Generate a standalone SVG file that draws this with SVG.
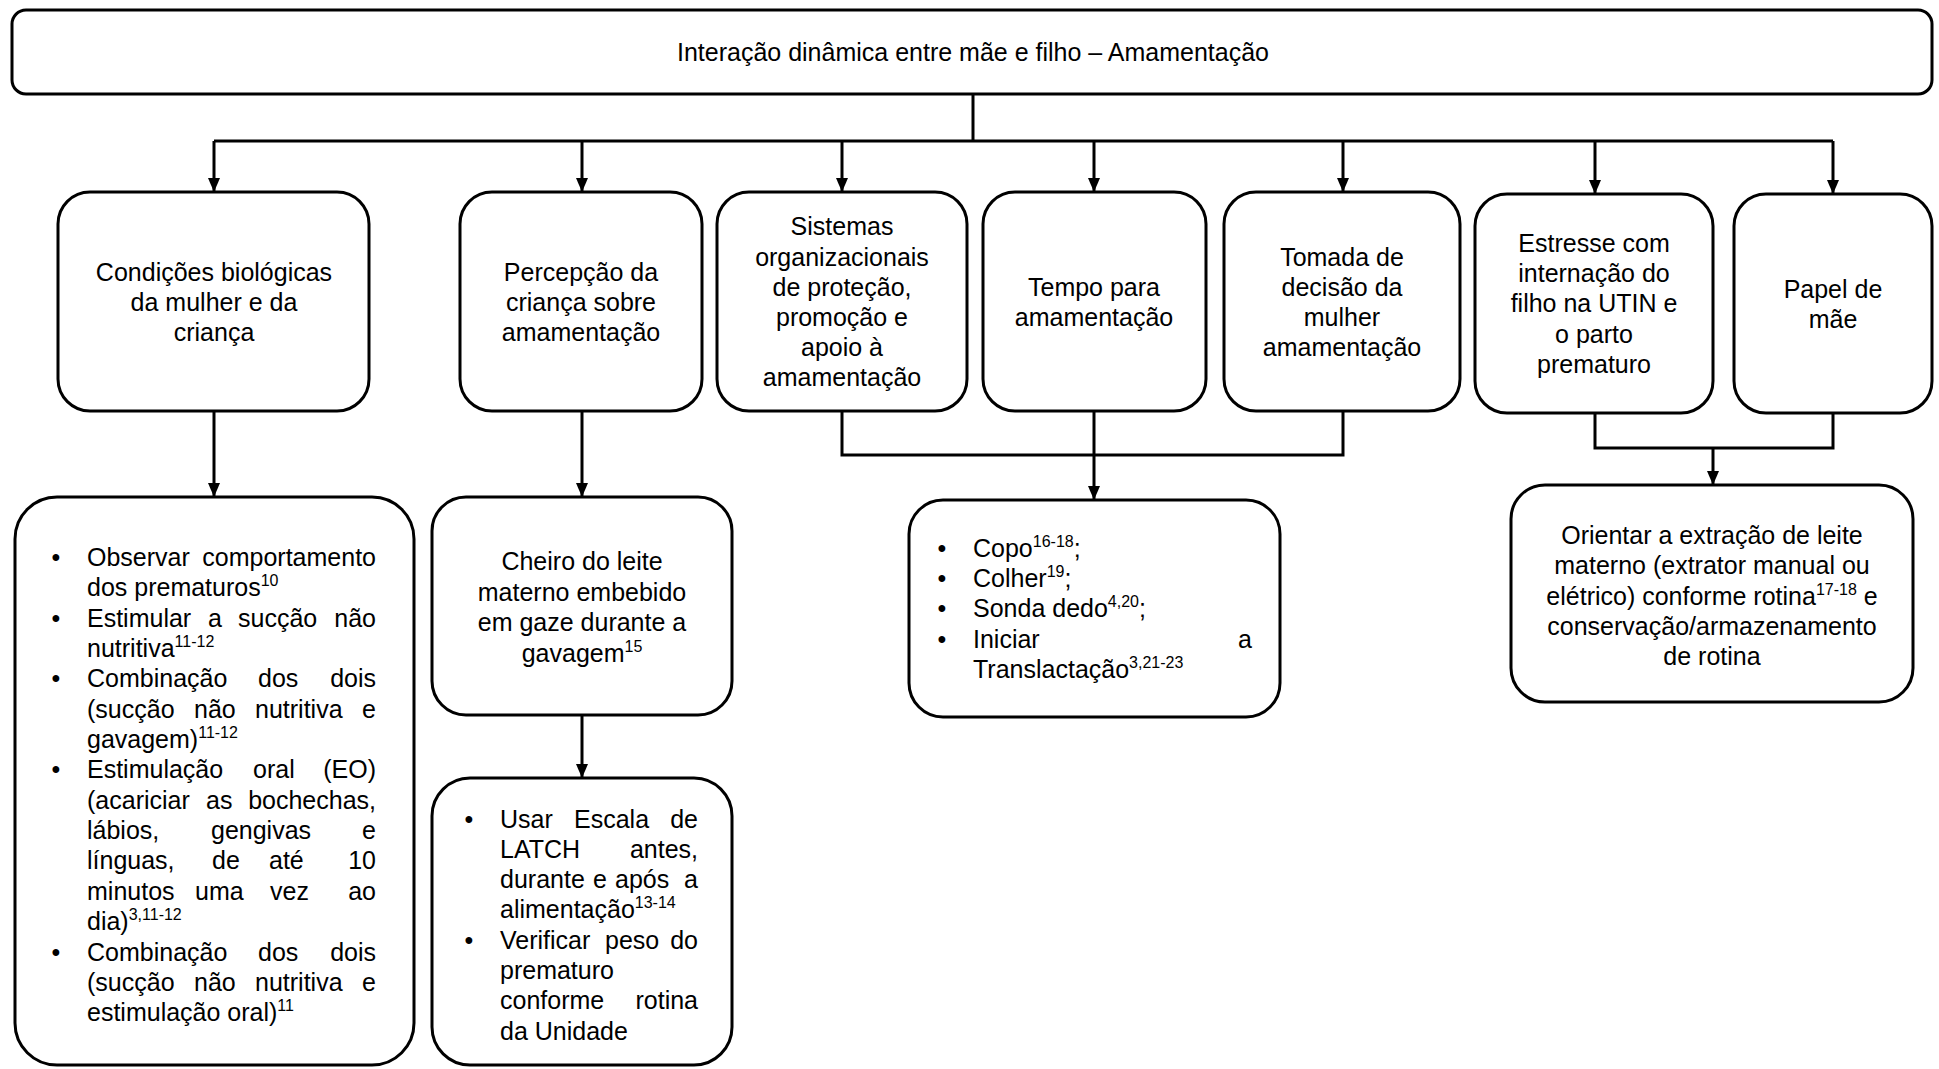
<svg xmlns="http://www.w3.org/2000/svg" width="1939" height="1069" viewBox="0 0 1939 1069">
<defs>
<marker id="arr" viewBox="0 0 10 10" refX="10" refY="5" markerWidth="14" markerHeight="12" markerUnits="userSpaceOnUse" orient="auto" preserveAspectRatio="none">
<path d="M0,0 L10,5 L0,10 z" fill="#000"/>
</marker>
<style>
rect.box{fill:#fff;stroke:#000;stroke-width:3}
text{font-family:"Liberation Sans",Arial,sans-serif;font-size:25px;fill:#000}
.c{text-anchor:middle}
.e{text-anchor:end}
.sup{font-size:16px}
.ln{fill:none;stroke:#000;stroke-width:3}
</style>
</defs>
<rect width="1939" height="1069" fill="#fff"/>

<g id="connectors">
<path class="ln" d="M973,94 V141"/>
<path class="ln" d="M214,141 H1833"/>
<path class="ln" d="M214,141 V192" marker-end="url(#arr)"/>
<path class="ln" d="M582,141 V192" marker-end="url(#arr)"/>
<path class="ln" d="M842,141 V192" marker-end="url(#arr)"/>
<path class="ln" d="M1094,141 V192" marker-end="url(#arr)"/>
<path class="ln" d="M1343,141 V192" marker-end="url(#arr)"/>
<path class="ln" d="M1595,141 V194" marker-end="url(#arr)"/>
<path class="ln" d="M1833,141 V194" marker-end="url(#arr)"/>
<path class="ln" d="M214,411 V497" marker-end="url(#arr)"/>
<path class="ln" d="M582,411 V497" marker-end="url(#arr)"/>
<path class="ln" d="M582,715 V778" marker-end="url(#arr)"/>
<path class="ln" d="M842,411 V455 H1343 V411"/>
<path class="ln" d="M1094,411 V500" marker-end="url(#arr)"/>
<path class="ln" d="M1595,413 V448 H1833 V413"/>
<path class="ln" d="M1713,448 V485" marker-end="url(#arr)"/>
</g>

<g id="node-top">
<rect class="box" x="12" y="10" width="1920" height="84" rx="14"/>
<text class="c" x="973" y="61">Interação dinâmica entre mãe e filho – Amamentação</text>
</g>

<g id="node-condicoes">
<rect class="box" x="58" y="192" width="311" height="219" rx="32"/>
<text class="c" x="214" y="281">Condições biológicas</text>
<text class="c" x="214" y="311">da mulher e da</text>
<text class="c" x="214" y="341">criança</text>
</g>

<g id="node-percepcao">
<rect class="box" x="460" y="192" width="242" height="219" rx="32"/>
<text class="c" x="581" y="281">Percepção da</text>
<text class="c" x="581" y="311">criança sobre</text>
<text class="c" x="581" y="341">amamentação</text>
</g>

<g id="node-sistemas">
<rect class="box" x="717" y="192" width="250" height="219" rx="32"/>
<text class="c" x="842" y="235">Sistemas</text>
<text class="c" x="842" y="266">organizacionais</text>
<text class="c" x="842" y="296">de proteção,</text>
<text class="c" x="842" y="326">promoção e</text>
<text class="c" x="842" y="356">apoio à</text>
<text class="c" x="842" y="386">amamentação</text>
</g>

<g id="node-tempo">
<rect class="box" x="983" y="192" width="223" height="219" rx="32"/>
<text class="c" x="1094" y="296">Tempo para</text>
<text class="c" x="1094" y="326">amamentação</text>
</g>

<g id="node-tomada">
<rect class="box" x="1224" y="192" width="236" height="219" rx="32"/>
<text class="c" x="1342" y="266">Tomada de</text>
<text class="c" x="1342" y="296">decisão da</text>
<text class="c" x="1342" y="326">mulher</text>
<text class="c" x="1342" y="356">amamentação</text>
</g>

<g id="node-estresse">
<rect class="box" x="1475" y="194" width="238" height="219" rx="32"/>
<text class="c" x="1594" y="252">Estresse com</text>
<text class="c" x="1594" y="282">internação do</text>
<text class="c" x="1594" y="312">filho na UTIN e</text>
<text class="c" x="1594" y="343">o parto</text>
<text class="c" x="1594" y="373">prematuro</text>
</g>

<g id="node-papel">
<rect class="box" x="1734" y="194" width="198" height="219" rx="32"/>
<text class="c" x="1833" y="298">Papel de</text>
<text class="c" x="1833" y="328">mãe</text>
</g>

<g id="node-condutas-biologicas">
<rect class="box" x="15" y="497" width="399" height="568" rx="42"/>
<text class="c" x="56" y="566">•</text>
<text class="c" x="56" y="627">•</text>
<text class="c" x="56" y="687">•</text>
<text class="c" x="56" y="778">•</text>
<text class="c" x="56" y="961">•</text>
<text y="566"><tspan x="87">Observar</tspan><tspan class="e" x="376">comportamento</tspan></text>
<text x="87" y="596">dos prematuros<tspan class="sup" dy="-10">10</tspan></text>
<text y="627"><tspan x="87">Estimular</tspan><tspan x="208">a</tspan><tspan x="238">sucção</tspan><tspan class="e" x="376">não</tspan></text>
<text x="87" y="657">nutritiva<tspan class="sup" dy="-10">11-12</tspan></text>
<text y="687"><tspan x="87">Combinação</tspan><tspan x="258">dos</tspan><tspan class="e" x="376">dois</tspan></text>
<text y="718"><tspan x="87">(sucção</tspan><tspan x="194">não</tspan><tspan x="255">nutritiva</tspan><tspan class="e" x="376">e</tspan></text>
<text x="87" y="748">gavagem)<tspan class="sup" dy="-10">11-12</tspan></text>
<text y="778"><tspan x="87">Estimulação</tspan><tspan x="253">oral</tspan><tspan class="e" x="376">(EO)</tspan></text>
<text y="809"><tspan x="87">(acariciar</tspan><tspan x="206">as</tspan><tspan class="e" x="376">bochechas,</tspan></text>
<text y="839"><tspan x="87">lábios,</tspan><tspan x="211">gengivas</tspan><tspan class="e" x="376">e</tspan></text>
<text y="869"><tspan x="87">línguas,</tspan><tspan x="212">de</tspan><tspan x="269">até</tspan><tspan class="e" x="376">10</tspan></text>
<text y="900"><tspan x="87">minutos</tspan><tspan x="195">uma</tspan><tspan x="270">vez</tspan><tspan class="e" x="376">ao</tspan></text>
<text x="87" y="930">dia)<tspan class="sup" dy="-10">3,11-12</tspan></text>
<text y="961"><tspan x="87">Combinação</tspan><tspan x="258">dos</tspan><tspan class="e" x="376">dois</tspan></text>
<text y="991"><tspan x="87">(sucção</tspan><tspan x="194">não</tspan><tspan x="255">nutritiva</tspan><tspan class="e" x="376">e</tspan></text>
<text x="87" y="1021">estimulação oral)<tspan class="sup" dy="-10">11</tspan></text>
</g>

<g id="node-cheiro">
<rect class="box" x="432" y="497" width="300" height="218" rx="34"/>
<text class="c" x="582" y="570">Cheiro do leite</text>
<text class="c" x="582" y="601">materno embebido</text>
<text class="c" x="582" y="631">em gaze durante a</text>
<text class="c" x="582" y="662">gavagem<tspan class="sup" dy="-10">15</tspan></text>
</g>

<g id="node-latch">
<rect class="box" x="432" y="778" width="300" height="287" rx="38"/>
<text class="c" x="469" y="828">•</text>
<text class="c" x="469" y="949">•</text>
<text y="828"><tspan x="500">Usar</tspan><tspan x="574">Escala</tspan><tspan class="e" x="698">de</tspan></text>
<text y="858"><tspan x="500">LATCH</tspan><tspan class="e" x="698">antes,</tspan></text>
<text y="888"><tspan x="500">durante</tspan><tspan x="593">e</tspan><tspan x="615">após</tspan><tspan class="e" x="698">a</tspan></text>
<text x="500" y="918">alimentação<tspan class="sup" dy="-10">13-14</tspan></text>
<text y="949"><tspan x="500">Verificar</tspan><tspan x="605">peso</tspan><tspan class="e" x="698">do</tspan></text>
<text x="500" y="979">prematuro</text>
<text y="1009"><tspan x="500">conforme</tspan><tspan class="e" x="698">rotina</tspan></text>
<text x="500" y="1040">da Unidade</text>
</g>

<g id="node-copo">
<rect class="box" x="909" y="500" width="371" height="217" rx="34"/>
<text class="c" x="942" y="557">•</text>
<text class="c" x="942" y="587">•</text>
<text class="c" x="942" y="617">•</text>
<text class="c" x="942" y="648">•</text>
<text x="973" y="557">Copo<tspan class="sup" dy="-10">16-18</tspan><tspan dy="10">;</tspan></text>
<text x="973" y="587">Colher<tspan class="sup" dy="-10">19</tspan><tspan dy="10">;</tspan></text>
<text x="973" y="617">Sonda dedo<tspan class="sup" dy="-10">4,20</tspan><tspan dy="10">;</tspan></text>
<text y="648"><tspan x="973">Iniciar</tspan><tspan class="e" x="1252">a</tspan></text>
<text x="973" y="678">Translactação<tspan class="sup" dy="-10">3,21-23</tspan></text>
</g>

<g id="node-orientar">
<rect class="box" x="1511" y="485" width="402" height="217" rx="34"/>
<text class="c" x="1712" y="544">Orientar a extração de leite</text>
<text class="c" x="1712" y="574">materno (extrator manual ou</text>
<text class="c" x="1712" y="605">elétrico) conforme rotina<tspan class="sup" dy="-10">17-18</tspan><tspan dy="10"> e</tspan></text>
<text class="c" x="1712" y="635">conservação/armazenamento</text>
<text class="c" x="1712" y="665">de rotina</text>
</g>
</svg>
